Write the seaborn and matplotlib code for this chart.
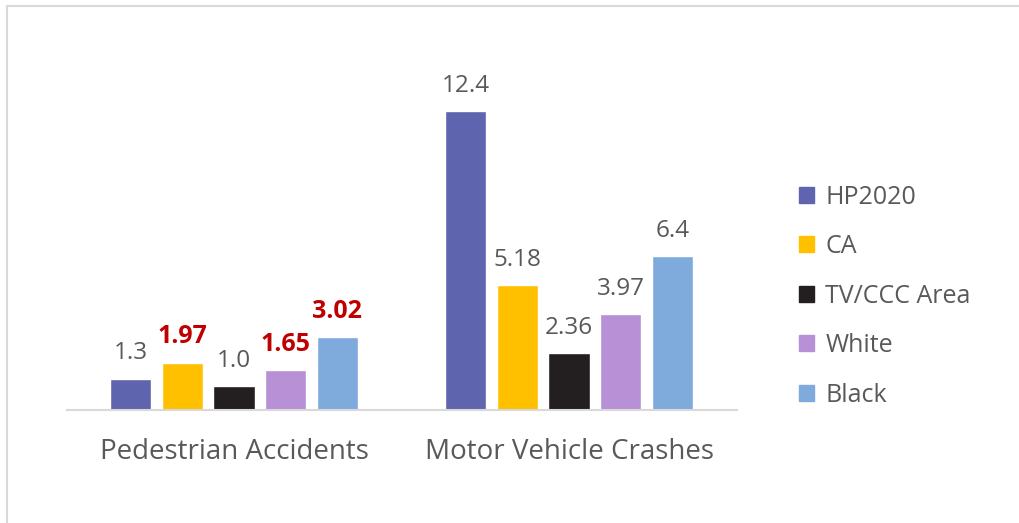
import pandas as pd
import numpy as np
import matplotlib.pyplot as plt
import seaborn as sns

categories = ['Pedestrian Accidents', 'Motor Vehicle Crashes']
series = ['HP2020', 'CA', 'TV/CCC Area', 'White', 'Black']
values = {
    'HP2020': [1.3, 12.4],
    'CA': [1.97, 5.18],
    'TV/CCC Area': [1.0, 2.36],
    'White': [1.65, 3.97],
    'Black': [3.02, 6.4],
}
labels = {
    'HP2020': ['1.3', '12.4'],
    'CA': ['1.97', '5.18'],
    'TV/CCC Area': ['1.0', '2.36'],
    'White': ['1.65', '3.97'],
    'Black': ['3.02', '6.4'],
}
# labels shown in bold red
highlight = {('CA', 0), ('White', 0), ('Black', 0)}
colors = ['#5E64AE', '#FFC000', '#231F20', '#B790D5', '#7FAADC']

rows = []
for s in series:
    for i, c in enumerate(categories):
        rows.append({'category': c, 'series': s, 'value': values[s][i]})
df = pd.DataFrame(rows)

sns.set_style('white')
plt.rcParams['font.family'] = ['Open Sans', 'DejaVu Sans']

fig = plt.figure(figsize=(10.19, 5.23), dpi=100)
ax = fig.add_axes([0.0653, 0.2161, 0.6575, 0.668])

sns.barplot(data=df, x='category', y='value', hue='series', hue_order=series,
            palette=colors, width=0.77, gap=0.2, saturation=1, ax=ax,
            legend=False)

for k, s in enumerate(series):
    cont = ax.containers[k]
    for i, bar in enumerate(cont):
        x = bar.get_x() + bar.get_width() / 2
        h = bar.get_height()
        if (s, i) in highlight:
            ax.text(x, h + 0.55, labels[s][i], ha='center', va='bottom',
                    fontsize=18, fontweight='bold', color='#C00000')
        else:
            ax.text(x, h + 0.55, labels[s][i], ha='center', va='bottom',
                    fontsize=17.5, color='#595959')

ax.set_ylim(0, 14.5)
ax.set_xlim(-0.5, 1.5)
ax.set_yticks([])
ax.set_xlabel('')
ax.set_ylabel('')
for sp in ['top', 'right', 'left']:
    ax.spines[sp].set_visible(False)
ax.spines['bottom'].set_color('#D9D9D9')
ax.spines['bottom'].set_linewidth(1.5)
ax.tick_params(axis='x', length=0, pad=20, labelsize=20, labelcolor='#595959')

handles = [plt.Rectangle((0, 0), 1, 1, color=c) for c in colors]
fig.legend(handles, series, loc='center left', bbox_to_anchor=(0.762, 0.434),
           frameon=False, fontsize=18, labelcolor='#595959',
           handlelength=0.6, handleheight=0.6, handletextpad=0.45,
           labelspacing=0.98)

# thin frame lines on the left and top edges
fig.add_artist(plt.Line2D([0.0069, 0.0069], [0, 0.989], color='#D9D9D9', lw=1.5))
fig.add_artist(plt.Line2D([0.0069, 1], [0.989, 0.989], color='#D9D9D9', lw=1.5))

fig.savefig('out.png', dpi=100)
